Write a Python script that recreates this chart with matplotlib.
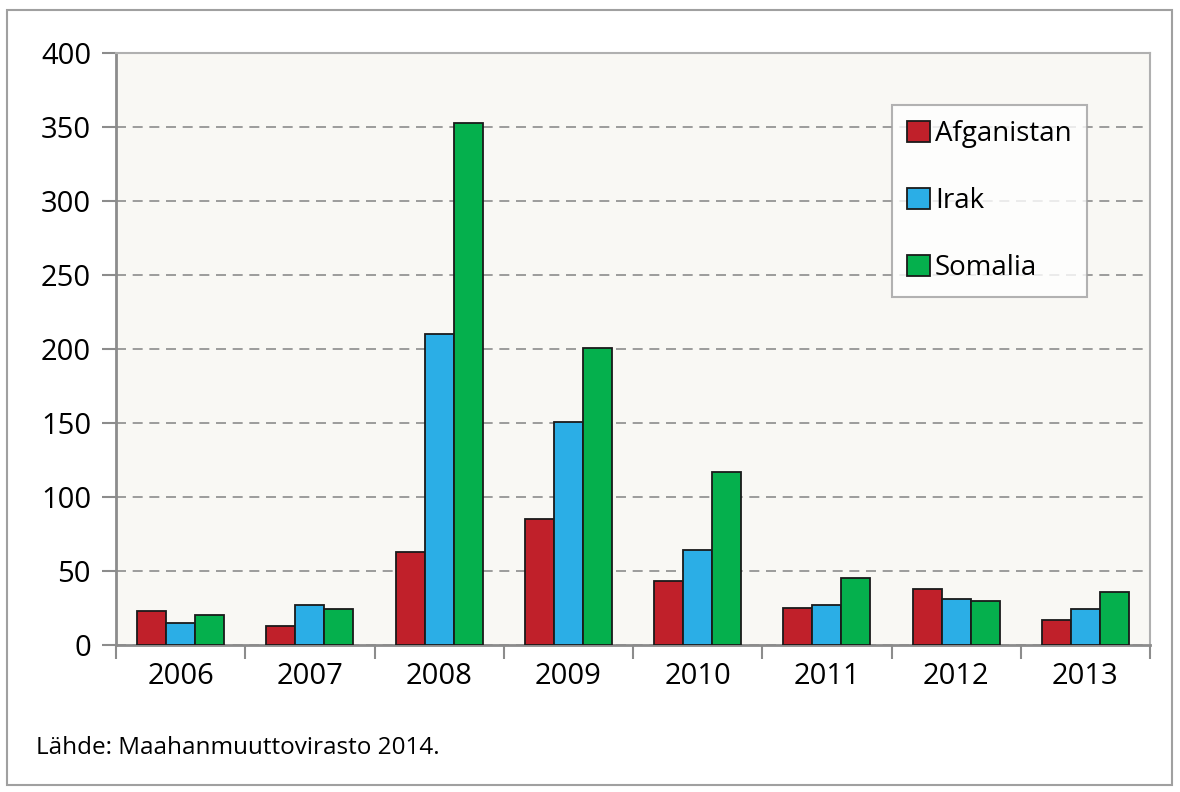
import matplotlib
matplotlib.use("Agg")
from matplotlib import pyplot as plt
from matplotlib.patches import Rectangle
import numpy as np

years = ["2006", "2007", "2008", "2009", "2010", "2011", "2012", "2013"]
afganistan = [23, 13, 63, 85, 43, 25, 38, 17]
irak = [15, 27, 210, 151, 64, 27, 31, 24]
somalia = [20, 24, 353, 201, 117, 45, 30, 36]

plt.rcParams['font.family'] = ['Open Sans', 'DejaVu Sans']
plt.rcParams['text.color'] = 'black'

fig = plt.figure(figsize=(11.8, 7.92), dpi=100)
ax = fig.add_axes([116 / 1180, 1 - 645 / 792, (1150 - 116) / 1180, (645 - 53) / 792])
ax.set_facecolor("#F9F8F4")

# outer frame
fig.patches.append(Rectangle((7 / 1180, 1 - 785 / 792), 1165 / 1180, 775 / 792,
                             transform=fig.transFigure, fill=False,
                             edgecolor="#A0A0A0", linewidth=1.5))

x = np.arange(len(years))
w = 0.225
ax.bar(x - w, afganistan, w, color="#C0202A", edgecolor="#1A1A1A", linewidth=1.3,
       label="Afganistan", zorder=3)
ax.bar(x, irak, w, color="#2BAEE6", edgecolor="#1A1A1A", linewidth=1.3,
       label="Irak", zorder=3)
ax.bar(x + w, somalia, w, color="#05B04D", edgecolor="#1A1A1A", linewidth=1.3,
       label="Somalia", zorder=3)

ax.set_xlim(-0.5, len(years) - 0.5)
ax.set_ylim(0, 400)
ax.set_yticks(range(0, 401, 50))
ax.yaxis.grid(True, linestyle=(0, (6, 4)), color="#8C8C8C", linewidth=1.2, zorder=0)

ax.set_xticks(x)
ax.set_xticklabels(years)
ax.set_xticks(np.arange(-0.5, len(years)), minor=True)
ax.tick_params(axis="x", which="major", length=0, pad=12, labelsize=21, labelcolor="black")
ax.tick_params(axis="x", which="minor", length=10, width=1.5, color="#8C8C8C", direction="out")
ax.tick_params(axis="y", length=10, width=1.5, color="#8C8C8C", direction="out",
               labelsize=21, pad=8, labelcolor="black")

for side in ["left", "bottom"]:
    ax.spines[side].set_color("#8C8C8C")
    ax.spines[side].set_linewidth(2)
for side in ["top", "right"]:
    ax.spines[side].set_color("#B0B0B0")
    ax.spines[side].set_linewidth(1.5)

leg = ax.legend(loc="upper left", bbox_to_anchor=((892 - 116) / 1034, (645 - 105) / 592),
                fontsize=20, frameon=True, fancybox=False, edgecolor="#A0A0A0",
                handlelength=0.8, handleheight=0.8, handletextpad=0.2,
                labelspacing=1.4, borderpad=0.55, borderaxespad=0)
leg.get_frame().set_linewidth(1.5)
leg.get_frame().set_facecolor("white")

fig.text(36 / 1180, 1 - 748 / 792, "Lähde: Maahanmuuttovirasto 2014.", fontsize=17.5,
         va="center", ha="left")

fig.savefig("out.png", dpi=100)
